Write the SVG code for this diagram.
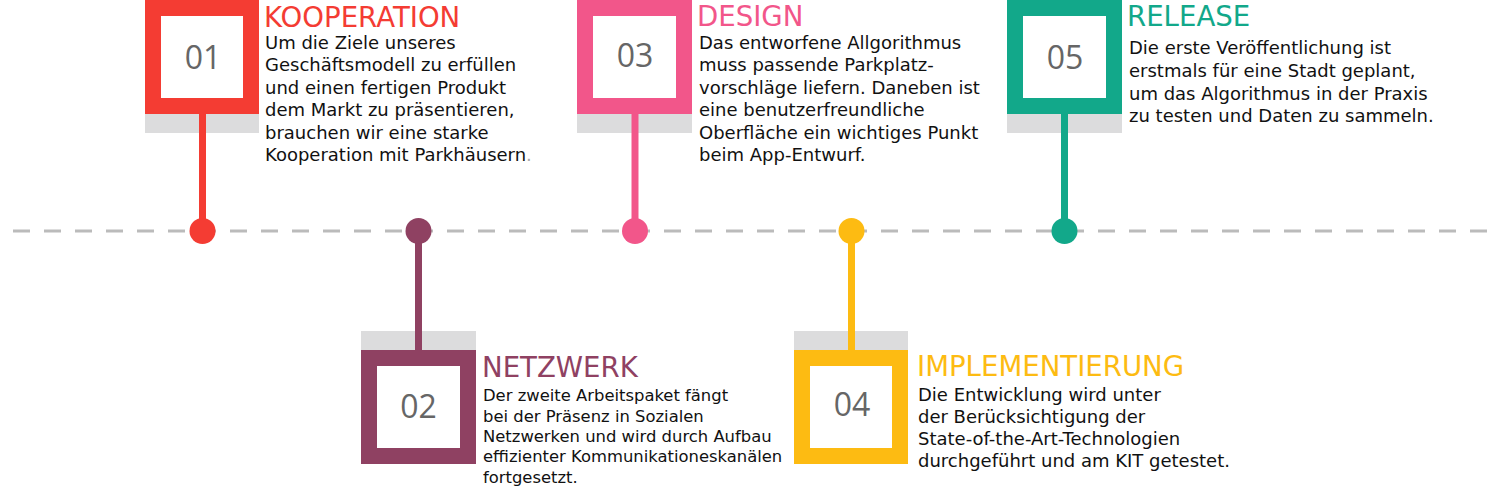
<svg xmlns="http://www.w3.org/2000/svg" width="1497" height="487" viewBox="0 0 1497 487">
<style>
.shadow{fill:#dcdcdd}
.inner{fill:#fff}
.num{font-family:"Open Sans","Liberation Sans",sans-serif;font-size:32px;fill:#666;text-anchor:middle}
.title{font-family:"DejaVu Sans",sans-serif;font-size:27.6px}
.body{font-family:"DejaVu Sans",sans-serif;font-size:18px;fill:#111}
.small{font-size:16.4px}
.c1{fill:#f43c33}.s1{stroke:#f43c33}
.c2{fill:#8f4162}.s2{stroke:#8f4162}
.c3{fill:#f2568a}.s3{stroke:#f2568a}
.c4{fill:#fdbb12}.s4{stroke:#fdbb12}
.c5{fill:#12a88a}.s5{stroke:#12a88a}
.stem{stroke-width:7;fill:none}
</style>
<g id="timeline">
<line x1="13" y1="231" x2="1497" y2="231" stroke="#bbbbbb" stroke-width="3" stroke-dasharray="17 14"/>
</g>
<g id="connectors">
<line class="stem s1" x1="202.5" y1="114" x2="202.5" y2="231"/>
<line class="stem s2" x1="418.5" y1="231" x2="418.5" y2="350"/>
<line class="stem s3" x1="635" y1="114" x2="635" y2="231"/>
<line class="stem s4" x1="851.5" y1="231" x2="851.5" y2="350"/>
<line class="stem s5" x1="1064.5" y1="114" x2="1064.5" y2="231"/>
<circle class="c1" cx="202.5" cy="231" r="13"/>
<circle class="c2" cx="418.5" cy="231" r="13"/>
<circle class="c3" cx="635" cy="231" r="13"/>
<circle class="c4" cx="851.5" cy="231" r="13"/>
<circle class="c5" cx="1064.5" cy="231" r="13"/>
</g>
<g id="node01">
<rect class="shadow" x="145" y="114" width="114" height="19"/>
<line class="stem s1" x1="202.5" y1="114" x2="202.5" y2="133"/>
<rect class="c1" x="145" y="0" width="114" height="114"/>
<rect class="inner" x="161" y="16" width="82" height="82"/>
<text class="num" x="203" y="69">01</text>
<text class="title c1" x="264" y="27">KOOPERATION</text>
<text class="body" x="265"><tspan x="265" y="48.5">Um die Ziele unseres</tspan><tspan x="265" y="71">Geschäftsmodell zu erfüllen</tspan><tspan x="265" y="93.5">und einen fertigen Produkt</tspan><tspan x="265" y="116">dem Markt zu präsentieren,</tspan><tspan x="265" y="138.5">brauchen wir eine starke</tspan><tspan x="265" y="161">Kooperation mit Parkhäusern<tspan fill="#aaa">.</tspan></tspan></text>
</g>
<g id="node02">
<rect class="shadow" x="361" y="331" width="115" height="19"/>
<line class="stem s2" x1="418.5" y1="331" x2="418.5" y2="350"/>
<rect class="c2" x="361" y="350" width="115" height="114"/>
<rect class="inner" x="377" y="366" width="83" height="82"/>
<text class="num" x="418.5" y="418">02</text>
<text class="title c2" x="482" y="377">NETZWERK</text>
<text class="body small"><tspan x="483" y="401">Der zweite Arbeitspaket fängt</tspan><tspan x="483" y="421.5">bei der Präsenz in Sozialen</tspan><tspan x="483" y="442">Netzwerken und wird durch Aufbau</tspan><tspan x="483" y="462">effizienter Kommunikationeskanälen</tspan><tspan x="483" y="482.5">fortgesetzt.</tspan></text>
</g>
<g id="node03">
<rect class="shadow" x="577" y="114" width="115" height="19"/>
<line class="stem s3" x1="635" y1="114" x2="635" y2="133"/>
<rect class="c3" x="577" y="0" width="115" height="114"/>
<rect class="inner" x="593" y="16" width="83" height="82"/>
<text class="num" x="635" y="67">03</text>
<text class="title c3" x="697" y="26">DESIGN</text>
<text class="body"><tspan x="699" y="48.5">Das entworfene Allgorithmus</tspan><tspan x="699" y="71">muss passende Parkplatz-</tspan><tspan x="699" y="93.5">vorschläge liefern. Daneben ist</tspan><tspan x="699" y="116">eine benutzerfreundliche</tspan><tspan x="699" y="138.5">Oberfläche ein wichtiges Punkt</tspan><tspan x="699" y="161">beim App-Entwurf.</tspan></text>
</g>
<g id="node04">
<rect class="shadow" x="794" y="331" width="114" height="19"/>
<line class="stem s4" x1="851.5" y1="331" x2="851.5" y2="350"/>
<rect class="c4" x="794" y="350" width="114" height="114"/>
<rect class="inner" x="810" y="366" width="82" height="82"/>
<text class="num" x="852" y="416">04</text>
<text class="title c4" x="917" y="376">IMPLEMENTIERUNG</text>
<text class="body"><tspan x="918" y="400.5">Die Entwicklung wird unter</tspan><tspan x="918" y="422.5">der Berücksichtigung der</tspan><tspan x="918" y="444.5">State-of-the-Art-Technologien</tspan><tspan x="918" y="466.5">durchgeführt und am KIT getestet.</tspan></text>
</g>
<g id="node05">
<rect class="shadow" x="1007" y="114" width="115" height="19"/>
<line class="stem s5" x1="1064.5" y1="114" x2="1064.5" y2="133"/>
<rect class="c5" x="1007" y="0" width="115" height="114"/>
<rect class="inner" x="1023" y="16" width="83" height="82"/>
<text class="num" x="1065" y="69">05</text>
<text class="title c5" x="1127" y="26">RELEASE</text>
<text class="body"><tspan x="1129" y="54">Die erste Veröffentlichung ist</tspan><tspan x="1129" y="77">erstmals für eine Stadt geplant,</tspan><tspan x="1129" y="99.5">um das Algorithmus in der Praxis</tspan><tspan x="1129" y="122">zu testen und Daten zu sammeln.</tspan></text>
</g>
</svg>
